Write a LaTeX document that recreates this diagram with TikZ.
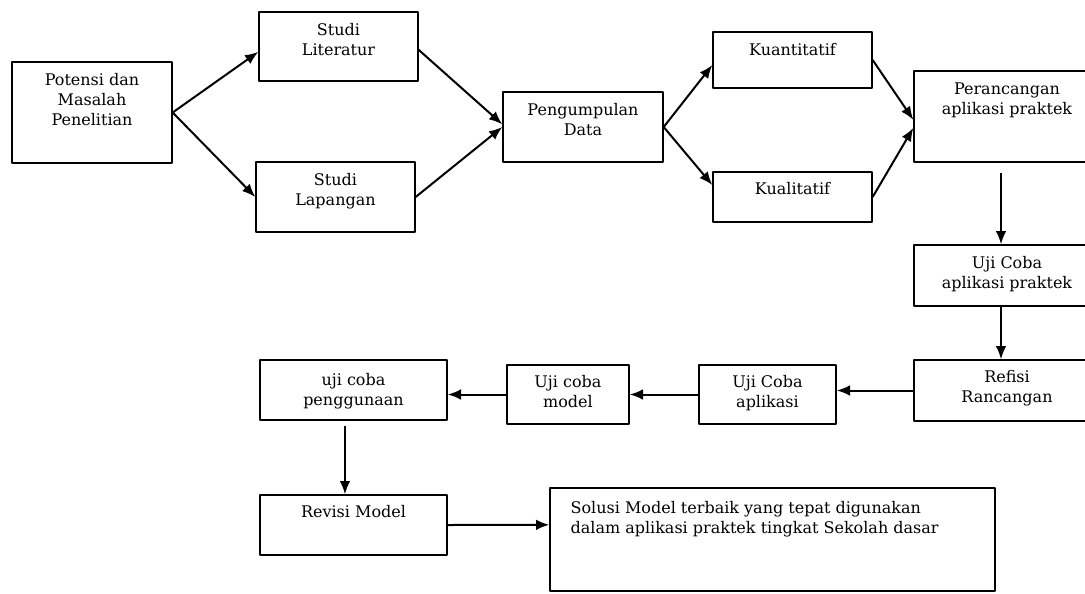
\documentclass[tikz,border=0pt]{standalone}
\usepackage{fontspec}
\setmainfont{DejaVu Serif}
\usetikzlibrary{positioning,arrows.meta}
\begin{document}
\begin{tikzpicture}[x=0.75pt, y=-0.75pt, font=\fontsize{12}{15}\selectfont, line join=round,
	box/.style={draw, line width=1pt, inner sep=0pt},
	txt/.style={align=center, inner sep=0pt},
	arr/.style={-{Latex[length=10pt,width=8pt]}, line width=1.5pt}]
	\useasboundingbox (0,0) rectangle (1085,593);
	% kotak baris atas
	\node[box, minimum width=120pt, minimum height=75.75pt] (pot) at (92,112.5) {};
	\node[box, minimum width=119.25pt, minimum height=51.75pt] (lit) at (338.5,46.5) {};
	\node[box, minimum width=119.25pt, minimum height=52.5pt] (lap) at (335.5,197) {};
	\node[box, minimum width=120pt, minimum height=52.5pt] (peng) at (583,127) {};
	\node[box, minimum width=119.25pt, minimum height=42pt] (kuant) at (792.5,60) {};
	\node[box, minimum width=119.25pt, minimum height=37.5pt] (kual) at (792.5,197) {};
	\node[box, minimum width=139.5pt, minimum height=68.25pt] (peran) at (1007,116.5) {};
	% kotak kanan dan bawah
	\node[box, minimum width=139.5pt, minimum height=45.75pt] (ujip) at (1007,275.5) {};
	\node[box, minimum width=139.5pt, minimum height=45.75pt] (ref) at (1007,390.5) {};
	\node[box, minimum width=102.75pt, minimum height=44.25pt] (ujia) at (767.5,394.5) {};
	\node[box, minimum width=91.5pt, minimum height=44.25pt] (ujim) at (568,394.5) {};
	\node[box, minimum width=140.25pt, minimum height=45pt] (ujig) at (353.5,390) {};
	\node[box, minimum width=140.25pt, minimum height=45pt] (rev) at (353.5,525) {};
	\node[box, minimum width=333.75pt, minimum height=77.25pt] (sol) at (772.5,539.5) {};
	% teks
	\node[txt, below=9pt of pot.north] (pot-t) {Potensi dan\\Masalah\\Penelitian};
	\node[txt, below=9pt of lit.north] (lit-t) {Studi\\Literatur};
	\node[txt, below=9pt of lap.north] (lap-t) {Studi\\Lapangan};
	\node[txt, below=9pt of peng.north] (peng-t) {Pengumpulan\\Data};
	\node[txt, below=9pt of kuant.north] (kuant-t) {Kuantitatif};
	\node[txt, below=8pt of kual.north] (kual-t) {Kualitatif};
	\node[txt, below=9pt of peran.north] (peran-t) {Perancangan\\aplikasi praktek};
	\node[txt, below=9pt of ujip.north] (ujip-t) {Uji Coba\\aplikasi praktek};
	\node[txt, below=8pt of ref.north] (ref-t) {Refisi\\Rancangan};
	\node[txt, below=8pt of ujia.north] (ujia-t) {Uji Coba\\aplikasi};
	\node[txt, below=8pt of ujim.north] (ujim-t) {Uji coba\\model};
	\node[txt, below=10pt of ujig.north] (ujig-t) {uji coba\\penggunaan};
	\node[txt, below=8pt of rev.north] (rev-t) {Revisi Model};
	\node[txt, align=left, below right=10pt and 15.75pt of sol.north west] (sol-t)
		{Solusi Model terbaik yang tepat digunakan\\dalam aplikasi praktek tingkat Sekolah dasar};
	% panah
	\draw[arr] (pot.east) -- ([yshift=-4pt]lit.west);
	\draw[arr] (pot.east) -- (lap.west);
	\draw[arr] ([yshift=-2.5pt]lit.east) -- ([yshift=2pt]peng.west);
	\draw[arr] (lap.east) -- (peng.west);
	\draw[arr] (peng.east) -- ([yshift=-3.75pt]kuant.west);
	\draw[arr] (peng.east) -- ([yshift=9pt]kual.west);
	\draw[arr] (kuant.east) -- ([yshift=-2.5pt]peran.west);
	\draw[arr] (kual.east) -- ([yshift=-8.5pt]peran.west);
	\draw[arr] ([xshift=-4.5pt,yshift=-7.5pt]peran.south) -- ([xshift=-4.5pt]ujip.north);
	\draw[arr] ([xshift=-4.5pt]ujip.south) -- ([xshift=-4.5pt]ref.north);
	\draw[arr] (ref.west) -- (ref.west -| ujia.east);
	\draw[arr] (ujia.west) -- (ujia.west -| ujim.east);
	\draw[arr] (ujim.west) -- (ujim.west -| ujig.east);
	\draw[arr] ([xshift=-6.4pt,yshift=-3.75pt]ujig.south) -- ([xshift=-6.4pt]rev.north);
	\draw[arr] (rev.east) -- ([yshift=11pt]sol.west);
\end{tikzpicture}
\end{document}
